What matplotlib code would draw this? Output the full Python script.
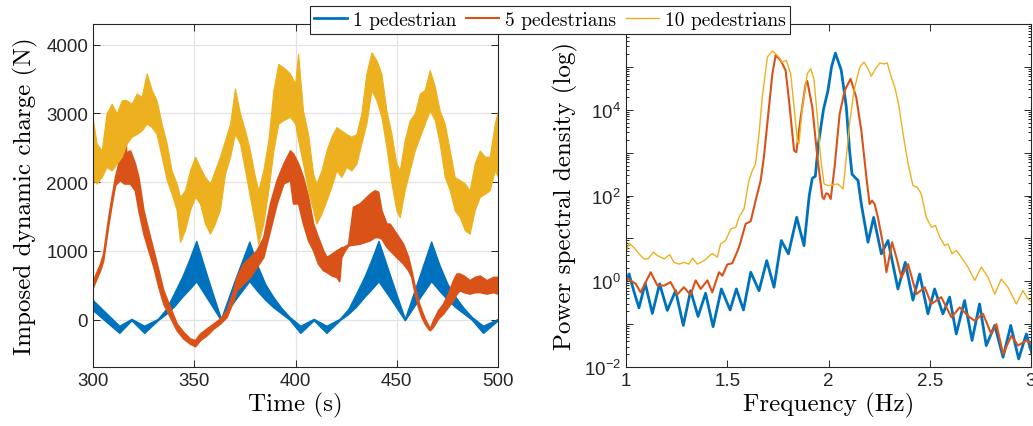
import numpy as np
import matplotlib
matplotlib.use("Agg")
import matplotlib.pyplot as plt
from matplotlib.ticker import FixedLocator, FuncFormatter, NullFormatter
from matplotlib.lines import Line2D

# MATLAB default line colours
C_BLUE = "#0072BD"
C_RED = "#D95319"
C_YEL = "#EDB120"

plt.rcParams.update({
    "font.family": "Liberation Sans",
    "mathtext.fontset": "custom",
    "mathtext.rm": "Liberation Sans",
    "mathtext.it": "Liberation Sans:italic",
    "xtick.direction": "in",
    "ytick.direction": "in",
    "xtick.top": True,
    "ytick.right": True,
})

# ---------------------------------------------------------------------------
# Left panel: imposed dynamic charge, envelopes of the fast oscillation (N)
# ---------------------------------------------------------------------------
t_one = [300, 306.5, 313, 319, 325.3, 332, 336, 340, 344, 347.5, 351, 357, 363.2,
         370, 377.2, 381, 385, 389, 393, 397, 402.4, 409, 415.3, 421.8, 426, 430,
         434, 437.5, 441, 447.5, 454, 460.5, 467, 471, 475, 479, 483, 487, 492.6, 500]
one_hi = [281, 95, -90, 10, -90, 10, 150, 380, 620, 870, 1144, 572, 10,
          570, 1135, 800, 520, 330, 170, 40, -90, 10, -90, 10, 150, 380,
          620, 870, 1144, 572, 10, 570, 1135, 800, 520, 330, 170, 40, -90, 10]
one_lo = [136, -30, -194, -10, -194, -10, 80, 190, 330, 440, 557, 280, -10,
          280, 560, 420, 290, 180, 90, 0, -194, -10, -194, -10, 80, 190,
          330, 440, 557, 280, -10, 280, 560, 420, 290, 180, 90, 0, -194, -10]

t_five = [300, 303.5, 305, 307.6, 309.2, 310.9, 313.3, 315.3, 315.8, 316.3, 318.3,
          320.7, 322.4, 324.9, 327.3, 329.8, 332.3, 334.7, 338, 341.3, 344.6,
          347.9, 350.4, 352.8, 356.1, 359.4, 362.7, 366, 369.3, 370.9, 374.2,
          377.5, 380.8, 384.1, 387.4, 390.7, 394, 397.3, 398.8, 401.3, 403.7,
          406.2, 408.7, 411.1, 413.6, 415.3, 418, 420.2, 421.6, 422.5, 424, 426,
          428.4, 431.7, 436.7, 439.1, 440.8, 442.4, 444.9, 446.5, 449.8, 453.1,
          455.6, 457.2, 458.9, 460.5, 462.2, 463.8, 465.5, 466.3, 467.9, 470.4,
          472.9, 475.3, 477.8, 479.5, 481.1, 483, 486, 488.5, 491, 494.3, 497.6, 500]
five_hi = [572, 815, 960, 1500, 1790, 2080, 2370, 2420, 3190, 2430, 2460,
           2270, 2075, 1590, 1300, 1010, 718, 427, 184, -58, -180,
           -276, -300, -204, -130, -58, 15, 136, 427, 620, 815,
           910, 1010, 1200, 1690, 2030, 2270, 2460, 2415, 2270, 2075,
           1785, 1396, 1200, 1008, 911, 960, 1008, 1030, 1050, 1060, 1100,
           1640, 1690, 1832, 1880, 1860, 1590, 1396, 1396, 1250, 1105,
           911, 718, 475, 281, 136, 15, -82, -131, -10, 136,
           233, 378, 572, 669, 669, 640, 572, 620, 640, 572, 620, 620]
five_lo = [475, 718, 860, 1390, 1680, 1960, 2030, 1980, 1980, 1980, 1980,
           1880, 1590, 1250, 1010, 770, 475, 233, 39, -155, -276,
           -350, -388, -300, -228, -131, -58, 39, 281, 427, 524,
           620, 766, 910, 1300, 1690, 1980, 2030, 1690, 1690, 1396,
           1154, 1008, 815, 718, 693, 640, 620, 560, 900, 990, 1080,
           1090, 1105, 1154, 1200, 1200, 1180, 1060, 1008, 911, 815,
           718, 620, 378, 184, 39, -58, -131, -155, -107, 15,
           87, 184, 281, 378, 427, 400, 378, 400, 400, 378, 400, 378]

t_ten = [300, 301.8, 304.3, 306.7, 309.2, 311.7, 314.2, 316.6, 319.1, 321.6, 324,
         326.5, 329, 331.4, 333.9, 336.4, 338.8, 341.3, 343, 345.4, 347.9, 350.4,
         352.8, 355.3, 357.8, 360.2, 362.7, 365.2, 367.7, 370.1, 372.6, 375.1,
         377.5, 380, 381.6, 384.1, 386.6, 389.1, 391.5, 394, 397.3, 399.8, 401.3,
         403.7, 406.2, 408.7, 410.3, 412.8, 415.3, 417.7, 420.2, 422.7, 425.1,
         427.6, 430.1, 432.5, 435, 437.5, 440, 442.4, 444.9, 447.4, 449.8, 451.5,
         453.9, 456.4, 458.9, 461.4, 463.8, 466.3, 468.8, 471.2, 473.7, 476.2,
         478.6, 481.1, 483.6, 486, 488.5, 491, 493.5, 495.9, 498.4, 500]
ten_hi = [2900, 2560, 2460, 3000, 3140, 3000, 3190, 3190, 3140, 3290, 3240,
          3580, 3340, 3190, 2850, 2560, 2170, 1980, 1785, 1880, 2170, 2370,
          2220, 2075, 1980, 2170, 2370, 2610, 2850, 3360, 3000, 2750,
          2460, 2075, 1880, 2170, 2610, 3340, 3720, 3670, 3580, 3430, 3870,
          3040, 2700, 2120, 1980, 2170, 2460, 2660, 2800, 2750, 2700,
          2660, 2700, 3000, 3580, 3890, 3770, 3580, 3040, 2700, 2270, 2170,
          2610, 2900, 3000, 3290, 3340, 3630, 3390, 3040, 2850, 2460,
          2075, 2030, 1980, 1880, 2270, 2460, 2370, 2370, 2850, 3040]
ten_lo = [2030, 1980, 2075, 2220, 2170, 2270, 2370, 2560, 2660, 2700, 2750,
          2850, 2800, 2700, 2370, 2030, 1830, 1590, 1130, 1300, 1590, 1785,
          1690, 1396, 1250, 1396, 1600, 2120, 2370, 2700, 2560, 2170,
          1785, 1396, 1105, 1396, 1880, 2460, 2850, 2900, 2950, 2850, 2610,
          2270, 1880, 1590, 1396, 1540, 1735, 1930, 2170, 2075, 2220,
          2170, 2270, 2560, 2850, 3340, 3190, 2950, 2510, 1980, 1590, 1490,
          1880, 2170, 2460, 2660, 2850, 3040, 2900, 2560, 2075, 1880,
          1590, 1490, 1300, 1250, 1590, 1785, 1830, 1880, 2170, 2075]

# ---------------------------------------------------------------------------
# Right panel: power spectral density, read as log10 values
# ---------------------------------------------------------------------------
f_one = [1.000, 1.015, 1.040, 1.064, 1.095, 1.130, 1.166, 1.204, 1.245, 1.283,
         1.319, 1.356, 1.393, 1.430, 1.471, 1.514, 1.545, 1.580, 1.616, 1.657,
         1.695, 1.731, 1.767, 1.802, 1.843, 1.879, 1.905, 1.920, 1.935, 1.950,
         1.975, 1.9975, 2.015, 2.034, 2.063, 2.088, 2.104, 2.116, 2.129, 2.146,
         2.162, 2.195, 2.223, 2.261, 2.294, 2.343, 2.379, 2.417, 2.450, 2.491,
         2.524, 2.565, 2.598, 2.631, 2.672, 2.709, 2.746, 2.779, 2.821, 2.862,
         2.900, 2.939, 2.977, 3.005]
psd_one_log = [0.0, 0.17, -0.25, -0.62, -0.05, -0.75, -0.06, -0.68, -0.22, -1.03,
               -0.22, -0.82, -0.28, -1.06, -0.18, -0.67, -0.18, -0.67, 0.21, -0.22,
               0.48, -0.14, 0.95, 0.64, 1.49, 0.83, 2.0, 2.40, 2.45, 3.2,
               4.0, 4.45, 5.0, 5.32, 4.92, 4.06, 3.05, 2.5, 2.43, 2.35,
               1.80, 0.91, 1.49, 0.64, 0.95, -0.18, 0.44, -0.44, 0.17, -0.76,
               -0.18, -0.76, -0.37, -1.23, -0.45, -1.38, -0.53, -1.50, -1.03, -1.77,
               -1.03, -1.81, -1.23, -1.70]

f_five = [1.000, 1.020, 1.048, 1.072, 1.122, 1.155, 1.188, 1.220, 1.253, 1.286,
          1.319, 1.344, 1.369, 1.402, 1.426, 1.459, 1.476, 1.500, 1.525, 1.558,
          1.591, 1.616, 1.640, 1.665, 1.681, 1.706, 1.723, 1.739, 1.764, 1.788,
          1.805, 1.830, 1.841, 1.863, 1.887, 1.895, 1.920, 1.945, 1.970, 1.978,
          1.988, 1.9975, 2.011, 2.030, 2.055, 2.080, 2.109, 2.137, 2.162, 2.187,
          2.203, 2.215, 2.228, 2.244, 2.269, 2.286, 2.314, 2.335, 2.360, 2.393,
          2.434, 2.475, 2.508, 2.557, 2.607, 2.648, 2.697, 2.722, 2.763, 2.804,
          2.829, 2.862, 2.903, 2.936, 2.977, 3.005]
psd_five_log = [0.09, 0.02, -0.06, -0.26, 0.21, -0.10, -0.10, -0.02, -0.31, -0.14,
                -0.32, 0.02, -0.18, 0.02, -0.26, 0.21, 0.13, 0.39, 0.42, 0.79,
                1.34, 1.40, 1.88, 2.35, 2.89, 4.06, 4.84, 5.27, 5.15, 4.92,
                4.22, 3.05, 3.01, 3.83, 4.60, 4.67, 4.06, 2.89, 1.96, 1.92,
                2.05, 2.04, 1.92, 2.66, 3.90, 4.45, 4.72, 4.29, 3.52, 2.43,
                1.80, 1.88, 1.80, 1.49, 0.87, 0.21, 0.91, 0.56, 0.09, 0.40,
                -0.30, -0.14, -0.53, -0.37, -0.84, -0.61, -0.84, -0.92, -0.76, -1.23,
                -1.00, -1.70, -1.27, -1.50, -1.38, -1.46]

f_ten = [1.000, 1.015, 1.040, 1.064, 1.089, 1.109, 1.135, 1.155, 1.188, 1.216,
         1.237, 1.262, 1.286, 1.311, 1.328, 1.352, 1.385, 1.426, 1.451, 1.467,
         1.492, 1.517, 1.542, 1.558, 1.583, 1.607, 1.624, 1.640, 1.657, 1.673,
         1.698, 1.723, 1.747, 1.772, 1.792, 1.813, 1.830, 1.846, 1.854, 1.871,
         1.895, 1.912, 1.928, 1.945, 1.961, 1.978, 1.9975, 2.047, 2.072, 2.088,
         2.104, 2.126, 2.154, 2.175, 2.192, 2.211, 2.231, 2.253, 2.274, 2.290,
         2.310, 2.327, 2.346, 2.368, 2.393, 2.417, 2.439, 2.458, 2.483, 2.508,
         2.528, 2.549, 2.574, 2.590, 2.610, 2.631, 2.656, 2.689, 2.722, 2.755,
         2.788, 2.821, 2.853, 2.886, 2.928, 2.960, 2.985, 3.005]
psd_ten_log = [0.68, 0.89, 0.78, 0.64, 0.52, 0.52, 0.68, 0.60, 0.52, 0.62,
               0.44, 0.40, 0.44, 0.40, 0.54, 0.40, 0.48, 0.65, 0.56, 0.87,
               0.95, 1.22, 1.26, 1.49, 1.69, 2.35, 2.58, 2.74, 3.44, 4.29,
               5.23, 5.37, 5.27, 5.11, 5.15, 4.84, 4.06, 3.28, 3.20, 4.06,
               4.84, 4.96, 4.72, 3.83, 2.89, 2.27, 2.23, 2.27, 2.15, 2.89,
               3.67, 4.45, 4.99, 5.11, 4.99, 4.78, 4.95, 5.09, 5.07, 5.09,
               4.76, 4.53, 4.14, 3.44, 2.74, 2.23, 2.19, 2.04, 1.49, 1.26,
               1.30, 1.03, 0.83, 0.87, 0.64, 0.72, 0.56, 0.33, 0.02, 0.33,
               0.09, -0.30, 0.05, -0.14, -0.53, -0.22, -0.41, -0.49]

LABEL_FONT = {"family": "cmr10", "size": 18}
TICK_COLOR = "#262626"


def style_axes(ax):
    for sp in ax.spines.values():
        sp.set_color(TICK_COLOR)
        sp.set_linewidth(0.8)
    ax.tick_params(which="both", colors=TICK_COLOR, labelsize=13.5, width=0.7)
    ax.tick_params(which="major", length=5)
    ax.tick_params(which="minor", length=2.5)


def log_label(v, pos):
    # MATLAB shows every other decade; 10^6 sits under the legend
    k = int(round(np.log10(v)))
    if k % 2 == 0 and k < 6:
        return r"$10^{%d}$" % k
    return ""


fig = plt.figure(figsize=(10.33, 4.27), dpi=100)

# left panel
ax1 = fig.add_axes([93 / 1033, 59 / 427, 405 / 1033, 343 / 427])
ax1.fill_between(t_one, one_lo, one_hi, color=C_BLUE, lw=1.0, edgecolor=C_BLUE)
ax1.fill_between(t_five, five_lo, five_hi, color=C_RED, lw=1.2, edgecolor=C_RED)
ax1.fill_between(t_ten, ten_lo, ten_hi, color=C_YEL, lw=0.8, edgecolor=C_YEL)
ax1.set_xlim(300, 500)
ax1.set_ylim(-690, 4300)
ax1.set_xticks([300, 350, 400, 450, 500])
ax1.set_yticks([0, 1000, 2000, 3000, 4000])
ax1.grid(True, color="#E3E3E3", lw=0.9)
ax1.set_axisbelow(True)
ax1.set_xlabel("Time (s)", fontdict=LABEL_FONT, labelpad=2)
ax1.set_ylabel("Imposed dynamic charge (N)", fontdict=LABEL_FONT, labelpad=6)
style_axes(ax1)

# right panel
ax2 = fig.add_axes([626 / 1033, 59 / 427, 405 / 1033, 343 / 427])
ax2.semilogy(f_one, 10.0 ** np.array(psd_one_log), color=C_BLUE, lw=2.0)
ax2.semilogy(f_five, 10.0 ** np.array(psd_five_log), color=C_RED, lw=1.5)
ax2.semilogy(f_ten, 10.0 ** np.array(psd_ten_log), color=C_YEL, lw=1.0)
ax2.set_xlim(1, 3)
ax2.set_ylim(1e-2, 1e6)
ax2.set_xticks([1, 1.5, 2, 2.5, 3])
ax2.set_xticklabels(["1", "1.5", "2", "2.5", "3"])
ax2.yaxis.set_major_locator(FixedLocator([10.0 ** k for k in range(-2, 7)]))
ax2.yaxis.set_major_formatter(FuncFormatter(log_label))
ax2.yaxis.set_minor_locator(FixedLocator([m * 10.0 ** k for k in range(-2, 6) for m in range(2, 10)]))
ax2.yaxis.set_minor_formatter(NullFormatter())
ax2.set_xlabel("Frequency (Hz)", fontdict=LABEL_FONT, labelpad=2)
ax2.set_ylabel("Power spectral density (log)", fontdict=LABEL_FONT, labelpad=4)
style_axes(ax2)

handles = [Line2D([], [], color=C_BLUE, lw=2.0),
           Line2D([], [], color=C_RED, lw=1.5),
           Line2D([], [], color=C_YEL, lw=1.0)]
leg = fig.legend(handles, ["1 pedestrian", "5 pedestrians", "10 pedestrians"],
                 loc="center", bbox_to_anchor=(550 / 1033, 1 - 21 / 427), ncol=3,
                 prop={"family": "cmr10", "size": 14}, frameon=True, fancybox=False,
                 edgecolor="#262626", framealpha=1, borderpad=0.25,
                 handlelength=1.7, handletextpad=0.3, columnspacing=0.5,
                 borderaxespad=0)
leg.get_frame().set_linewidth(0.8)

fig.savefig("out.png", dpi=100)
